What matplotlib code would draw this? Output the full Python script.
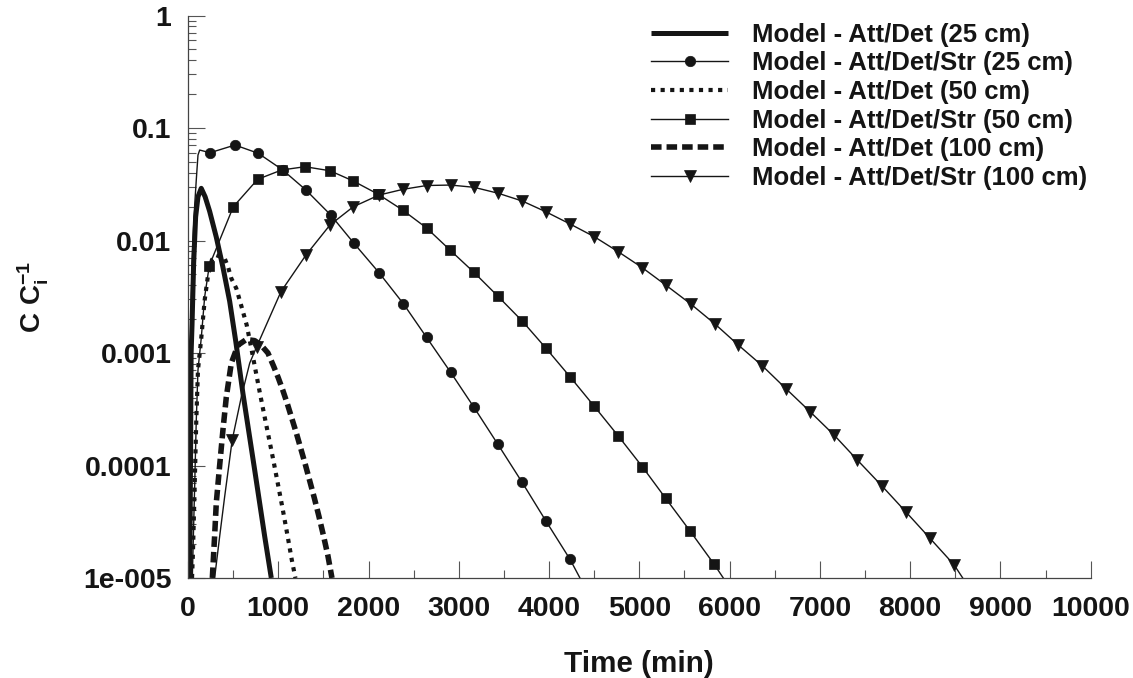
import numpy as np
import matplotlib
matplotlib.use("Agg")
import matplotlib.pyplot as plt
from matplotlib.ticker import LogLocator, MultipleLocator, NullFormatter

plt.rcParams['font.family'] = ['Liberation Sans', 'DejaVu Sans']
plt.rcParams['font.weight'] = 'bold'
plt.rcParams['mathtext.fontset'] = 'custom'
plt.rcParams['mathtext.rm'] = 'Liberation Sans:bold'
plt.rcParams['mathtext.it'] = 'Liberation Sans:bold'
plt.rcParams['mathtext.bf'] = 'Liberation Sans:bold'

# ---------------- data ----------------
labels = ["Model - Att/Det (25 cm)", "Model - Att/Det/Str (25 cm)",
          "Model - Att/Det (50 cm)", "Model - Att/Det/Str (50 cm)",
          "Model - Att/Det (100 cm)", "Model - Att/Det/Str (100 cm)"]

# Att/Det 25 cm
t_ad25 = [20, 28, 35, 45, 63, 85, 111, 147, 190, 240, 314, 388, 462, 530, 609, 739, 850, 923]
c_ad25 = [1e-5, 1e-4, 1e-3, 1.78e-3, 6.31e-3, 1.62e-2, 2.45e-2, 2.91e-2, 2.45e-2, 1.82e-2,
          1.07e-2, 5.75e-3, 2.88e-3, 1.26e-3, 4.37e-4, 9.12e-5, 2.34e-5, 1e-5]

# Att/Det/Str 25 cm (circles at marker times)
t_ads25 = [12, 20, 28, 37, 55, 75, 92, 111, 130,
           244, 521, 779, 1049, 1307, 1581, 1839, 2116, 2385, 2644, 2910, 3168, 3431,
           3697, 3963, 4232, 4342]
c_ads25 = [1e-5, 1e-4, 1e-3, 3.16e-3, 1.01e-2, 2.1e-2, 3.45e-2, 5.75e-2, 6.37e-2,
           6.03e-2, 7.06e-2, 5.96e-2, 4.24e-2, 2.81e-2, 1.687e-2, 9.44e-3, 5.18e-3, 2.75e-3,
           1.374e-3, 6.73e-4, 3.29e-4, 1.552e-4, 7.18e-5, 3.23e-5, 1.466e-5, 1e-5]
mk_ads25 = [244, 521, 779, 1049, 1307, 1581, 1839, 2116, 2385, 2644, 2910, 3168, 3431,
            3697, 3963, 4232]

# Att/Det 50 cm
t_ad50 = [45, 55, 74, 92, 111, 147, 185, 222, 266, 314, 406, 443, 480, 535, 573, 609, 650,
          700, 750, 800, 850, 900, 950, 1000, 1050, 1100, 1150, 1190]
c_ad50 = [1e-5, 1.66e-5, 6.46e-5, 2.51e-4, 7.08e-4, 1.35e-3, 2.95e-3, 4.90e-3, 6.76e-3,
          7.41e-3, 6.95e-3, 5.85e-3, 4.61e-3, 3.76e-3, 2.95e-3, 2.33e-3, 1.78e-3, 1.12e-3,
          6.92e-4, 4.27e-4, 2.69e-4, 1.70e-4, 1.07e-4, 6.61e-5, 4.07e-5, 2.45e-5, 1.45e-5, 1e-5]

# Att/Det/Str 50 cm (squares)
t_ads50 = [48, 55, 74, 92, 111, 147, 185,
           236, 502, 772, 1038, 1296, 1573, 1831, 2108, 2378, 2644, 2902, 3168, 3431, 3703,
           3966, 4232, 4498, 4767, 5033, 5292, 5561, 5827, 5930]
c_ads50 = [1e-5, 1.66e-5, 6.46e-5, 2.51e-4, 7.08e-4, 1.35e-3, 3.16e-3,
           5.97e-3, 1.995e-2, 3.5e-2, 4.236e-2, 4.53e-2, 4.17e-2, 3.38e-2, 2.576e-2, 1.866e-2,
           1.291e-2, 8.24e-3, 5.21e-3, 3.21e-3, 1.923e-3, 1.102e-3, 6.15e-4, 3.38e-4,
           1.828e-4, 9.75e-5, 5.1e-5, 2.62e-5, 1.33e-5, 1e-5]
mk_ads50 = [236, 502, 772, 1038, 1296, 1573, 1831, 2108, 2378, 2644, 2902, 3168, 3431, 3703,
            3966, 4232, 4498, 4767, 5033, 5292, 5561, 5827]

# Att/Det 100 cm
t_ad100 = [270, 295, 314, 351, 388, 425, 480, 554, 646, 739, 810, 886, 950, 1000, 1050, 1100,
           1150, 1200, 1250, 1300, 1350, 1400, 1450, 1500, 1550, 1595]
c_ad100 = [1e-5, 2.34e-5, 4.68e-5, 1.0e-4, 2.09e-4, 4.07e-4, 8.13e-4, 1.175e-3, 1.318e-3,
           1.288e-3, 1.175e-3, 1.0e-3, 7.59e-4, 6.03e-4, 4.68e-4, 3.55e-4, 2.63e-4, 1.95e-4,
           1.41e-4, 1.02e-4, 7.24e-5, 5.13e-5, 3.55e-5, 2.40e-5, 1.58e-5, 1e-5]

# Att/Det/Str 100 cm (down triangles)
t_ads100 = [295, 351, 406, 490, 591, 684, 761, 1030, 1307, 1573, 1831, 2116, 2382, 2644,
            2910, 3168, 3437, 3703, 3963, 4232, 4501, 4767, 5033, 5292, 5569, 5838, 6096,
            6359, 6625, 6891, 7157, 7414, 7685, 7951, 8220, 8486, 8582]
c_ads100 = [1e-5, 2.34e-5, 5.25e-5, 1.687e-4, 4.07e-4, 8.13e-4, 1.138e-3, 3.51e-3, 7.43e-3,
            1.374e-2, 1.995e-2, 2.535e-2, 2.851e-2, 3.083e-2, 3.112e-2, 2.972e-2, 2.63e-2,
            2.244e-2, 1.803e-2, 1.403e-2, 1.081e-2, 7.94e-3, 5.73e-3, 4.02e-3, 2.73e-3,
            1.81e-3, 1.178e-3, 7.74e-4, 4.81e-4, 3.01e-4, 1.866e-4, 1.12e-4, 6.61e-5,
            3.88e-5, 2.25e-5, 1.31e-5, 1e-5]
mk_ads100 = [490, 761, 1030, 1307, 1573, 1831, 2116, 2382, 2644, 2910, 3168, 3437, 3703,
             3963, 4232, 4501, 4767, 5033, 5292, 5569, 5838, 6096, 6359, 6625, 6891, 7157,
             7414, 7685, 7951, 8220, 8486]

x_ticks = [0, 1000, 2000, 3000, 4000, 5000, 6000, 7000, 8000, 9000, 10000]
x_ticklabels = [str(v) for v in x_ticks]
y_ticks = [1e-5, 1e-4, 1e-3, 1e-2, 1e-1, 1]
y_ticklabels = ["1e-005", "0.0001", "0.001", "0.01", "0.1", "1"]

# ---------------- figure ----------------
fig = plt.figure(figsize=(11.33, 6.78), dpi=100)
ax = fig.add_axes([0.1659, 0.1475, 0.7968, 0.8296])
ink = '#151515'

def mask(t, mk):
    return list(np.isin(np.array(t), np.array(mk)))

ax.plot(t_ad25, c_ad25, color=ink, lw=3.6, solid_capstyle='butt', label=labels[0])
ax.plot(t_ads25, c_ads25, color=ink, lw=1.0, marker='o', ms=7.5, mew=0.5,
        markevery=mask(t_ads25, mk_ads25), label=labels[1])
ax.plot(t_ad50, c_ad50, color=ink, lw=3.0, ls=(0, (1.0, 1.3)), dash_capstyle='butt',
        label=labels[2])
ax.plot(t_ads50, c_ads50, color=ink, lw=1.0, marker='s', ms=7.2, mew=0.5,
        markevery=mask(t_ads50, mk_ads50), label=labels[3])
ax.plot(t_ad100, c_ad100, color=ink, lw=4.0, ls=(0, (1.9, 0.9)), dash_capstyle='butt',
        label=labels[4])
ax.plot(t_ads100, c_ads100, color=ink, lw=1.0, marker='v', ms=8.0, mew=0.5,
        markevery=mask(t_ads100, mk_ads100), label=labels[5])

ax.set_yscale('log')
ax.set_xlim(0, 10000)
ax.set_ylim(1e-5, 1)
ax.set_xticks(x_ticks)
ax.set_xticklabels(x_ticklabels)
ax.xaxis.set_minor_locator(MultipleLocator(500))
ax.set_yticks(y_ticks)
ax.set_yticklabels(y_ticklabels)
ax.yaxis.set_minor_locator(LogLocator(base=10, subs=np.arange(2, 10)))
ax.yaxis.set_minor_formatter(NullFormatter())

for s in ['top', 'right']:
    ax.spines[s].set_visible(False)
for s in ['left', 'bottom']:
    ax.spines[s].set_linewidth(0.9)
    ax.spines[s].set_color('#444444')

ax.tick_params(which='major', direction='in', length=12, width=0.8, color='#555555',
               labelsize=20.5, labelcolor=ink)
ax.tick_params(which='minor', direction='in', length=6, width=0.8, color='#555555')
ax.tick_params(axis='x', which='major', pad=13)
ax.tick_params(axis='y', which='major', pad=12)
for lab in ax.get_xticklabels() + ax.get_yticklabels():
    lab.set_fontweight('bold')

fig.text(0.5638, 0.0089, "Time (min)", ha='center', va='baseline', fontsize=21.3,
         fontweight='bold', color=ink)
fig.text(0.0291, 0.562, r"$\mathrm{C\ C_i^{-1}}$", rotation=90, ha='center', va='center',
         fontsize=20, color=ink)

leg = ax.legend(loc='upper left', bbox_to_anchor=(0.5746, 0.9665),
                bbox_transform=fig.transFigure, frameon=False, borderpad=0,
                borderaxespad=0, handlelength=3.0, handletextpad=0.93,
                labelspacing=0.18, numpoints=1, prop={'size': 18.5, 'weight': 'bold'})
for txt in leg.get_texts():
    txt.set_color(ink)

fig.savefig("out.png", dpi=100)
